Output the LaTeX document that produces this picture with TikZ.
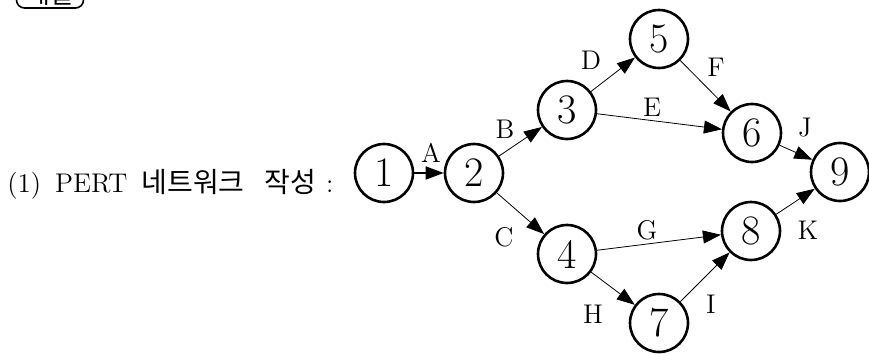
\documentclass[tikz,border=0pt]{standalone}
\usepackage{fontspec}
\newfontfamily\kr{Noto Sans CJK KR}
\usetikzlibrary{arrows.meta}

\begin{document}
\begin{tikzpicture}[x=0.5pt,y=-0.5pt,
  event/.style={circle,draw,line width=1.3pt,minimum size=29pt,inner sep=0pt,
    font=\fontsize{21}{24}\selectfont},
  act/.style={line width=0.4pt,-{Triangle[length=9pt,width=6.5pt]}},
  lbl/.style={inner sep=0pt,font=\fontsize{13.5}{15}\selectfont}]
  \useasboundingbox (0,0) rectangle (869,354);
  \clip (0,0) rectangle (869,354);

  \node[draw,rounded corners=4pt,line width=0.8pt,minimum width=33.5pt,
    minimum height=14pt,inner sep=0pt,font=\kr\fontsize{13}{14}\selectfont]
    (head) at (50,-6) {해설};
  \node[anchor=base west,inner sep=0pt,font=\fontsize{13.5}{15}\selectfont]
    (title) at (7,192)
    {(1)\hspace{7pt}PERT\hspace{7pt}{\kr\fontsize{14}{15}\selectfont 네트워크}%
     \hspace{10pt}{\kr\fontsize{14}{15}\selectfont 작성}\hspace{5pt}:};

  \foreach \n/\x/\y in {1/384/173,2/474/173,3/567/110,4/567/254,5/659/39,
      6/752/133,7/659/323,8/751/231,9/840/172}
    \node[event] (n\n) at (\x,\y) {\n};

  \draw[act,line width=0.8pt] (n1) -- (n2);
  \foreach \a/\b in {2/3,2/4,3/5,3/6,5/6,4/8,4/7,7/8,6/9,8/9}
    \draw[act] (n\a) -- (n\b);

  \foreach \t/\x/\y in {A/431/153,B/505/129,C/504/237,D/591/60,E/652/107,
      F/716/67,G/647/230,H/593/314,I/711/304,J/805/128,K/808/230}
    \node[lbl] (l\t) at (\x,\y) {\t};
\end{tikzpicture}
\end{document}
